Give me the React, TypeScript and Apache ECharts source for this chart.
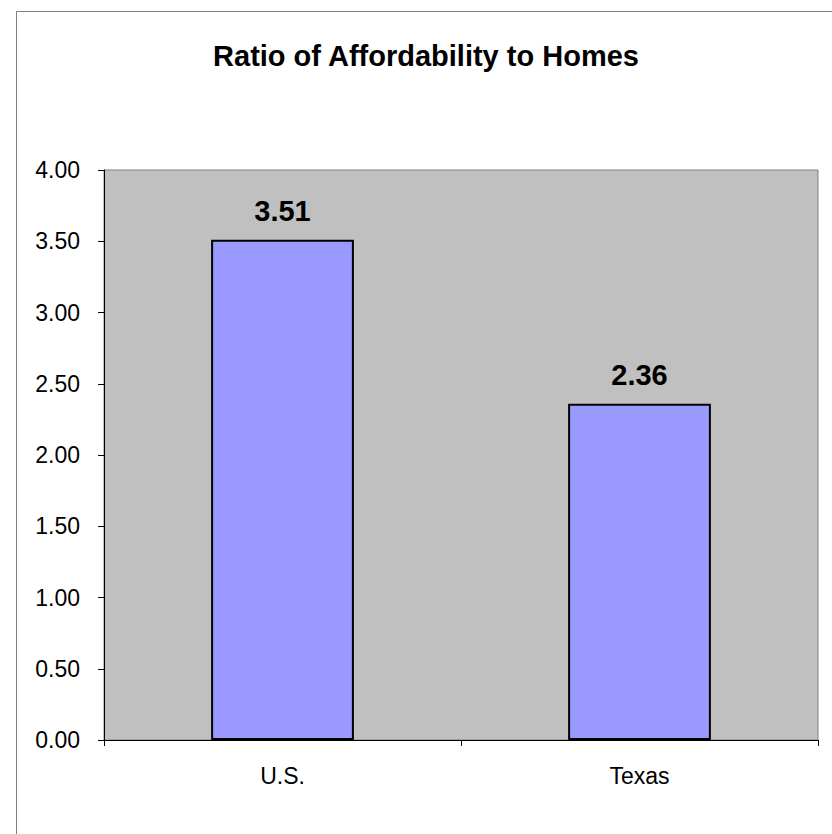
import React, { useEffect, useRef } from "react";
import * as echarts from "echarts";

const categories = ["U.S.", "Texas"];
const values = [3.51, 2.36];
const yTicks = { min: 0, max: 4, interval: 0.5 };
const titleText = "Ratio of Affordability to Homes";

export default function App() {
  const ref = useRef<HTMLDivElement>(null);
  useEffect(() => {
    const chart = echarts.init(ref.current!, null, { renderer: "svg" });
    const font = "'Liberation Sans', Arial, sans-serif";
    chart.setOption({
      animation: false,
      backgroundColor: "#ffffff",
      title: {
        text: titleText,
        left: 421,
        top: 36,
        textAlign: "center",
        textStyle: { fontFamily: font, fontSize: 29, fontWeight: "bold", color: "#000" },
      },
      graphic: [
        {
          type: "rect",
          shape: { x: 16.5, y: 11.5, width: 900, height: 900 },
          style: { fill: "none", stroke: "#808080", lineWidth: 1 },
          silent: true,
        },
      ],
      grid: {
        left: 104,
        top: 170,
        width: 714,
        height: 570,
        show: true,
        backgroundColor: "#C0C0C0",
        borderColor: "#808080",
        borderWidth: 1,
      },
      xAxis: {
        type: "category",
        data: categories,
        boundaryGap: true,
        axisLine: { lineStyle: { color: "#000", width: 1 } },
        axisTick: { show: true, length: 6, lineStyle: { color: "#000" } },
        axisLabel: { fontFamily: font, fontSize: 23, color: "#000", margin: 24 },
        splitLine: { show: false },
      },
      yAxis: {
        type: "value",
        min: yTicks.min,
        max: yTicks.max,
        interval: yTicks.interval,
        axisLine: { show: true, lineStyle: { color: "#000", width: 1 } },
        axisTick: { show: true, length: 6, lineStyle: { color: "#000" } },
        axisLabel: {
          fontFamily: font,
          fontSize: 23,
          color: "#000",
          margin: 24,
          formatter: (v: number) => v.toFixed(2),
        },
        splitLine: { show: false },
      },
      series: [
        {
          type: "bar",
          data: values,
          barWidth: "40%",
          itemStyle: { color: "#9999FF", borderColor: "#000", borderWidth: 2 },
          label: {
            show: true,
            position: "top",
            distance: 14,
            fontFamily: font,
            fontSize: 29,
            fontWeight: "bold",
            color: "#000",
            formatter: (p: any) => p.value.toFixed(2),
          },
        },
      ],
    });
    return () => chart.dispose();
  }, []);
  return (
    <div
      ref={ref}
      style={{ position: "absolute", left: 0, top: 0, width: 832, height: 834 }}
    />
  );
}
